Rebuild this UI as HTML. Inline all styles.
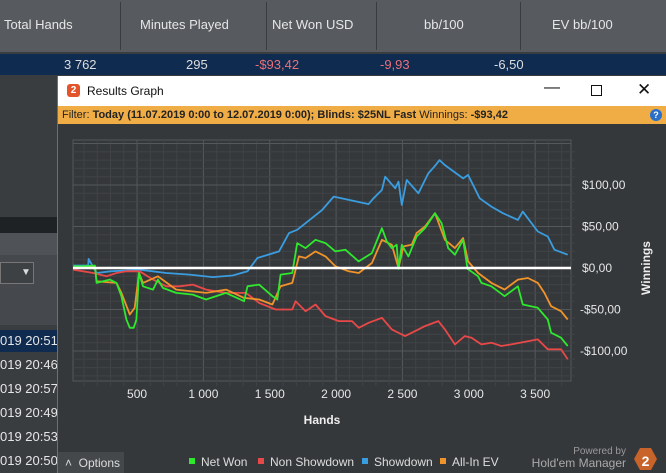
<!DOCTYPE html>
<html><head><meta charset="utf-8">
<style>
*{margin:0;padding:0;box-sizing:border-box}
body{width:666px;height:473px;overflow:hidden;background:#3a3d40;font-family:"Liberation Sans",sans-serif;position:relative}
.abs{position:absolute}
.hdr{left:0;top:0;width:666px;height:53px;background:#575b5f;border-bottom:1px solid #3b3e41}
.hc{position:absolute;top:17px;color:#e6e6e6;font-size:13px}
.sep{position:absolute;top:2px;width:1px;height:48px;background:#3a3d40}
.row{left:0;top:54px;width:666px;height:21px;background:#0f2b50}
.rc{position:absolute;top:3px;font-size:13px}
.lrow{position:absolute;left:0;font-size:13px;color:#e6e6e6}
</style></head><body>
<div class="abs hdr">
<span class="hc" style="left:4px">Total Hands</span>
<div class="sep" style="left:120px"></div>
<span class="hc" style="left:140px">Minutes Played</span>
<div class="sep" style="left:266px"></div>
<span class="hc" style="left:272px">Net Won USD</span>
<div class="sep" style="left:376px"></div>
<span class="hc" style="left:424px">bb/100</span>
<div class="sep" style="left:520px"></div>
<span class="hc" style="left:552px">EV bb/100</span>
</div>
<div class="abs row">
<span class="rc" style="left:64px;color:#ddd">3 762</span>
<span class="rc" style="left:186px;color:#ddd">295</span>
<span class="rc" style="left:255px;color:#e8707a">-$93,42</span>
<span class="rc" style="left:380px;color:#e8707a">-9,93</span>
<span class="rc" style="left:494px;color:#ddd">-6,50</span>
</div>
<div class="abs" style="left:0;top:75px;width:57px;height:155px;background:#3a3d40"></div>
<div class="abs" style="left:0;top:217px;width:57px;height:16px;background:#1f2225"></div>
<div class="abs" style="left:0;top:233px;width:57px;height:22px;background:#4f5256"></div>
<div class="abs" style="left:0;top:255px;width:57px;height:70px;background:#45484c"></div>
<div class="abs" style="left:0;top:262px;width:34px;height:22px;border:1px solid #777;background:#3e4144"><span style="position:absolute;left:20px;top:4px;color:#ddd;font-size:10px">▼</span></div>
<div class="abs" style="left:0;top:330px;width:57px;height:22px;background:#0f2b50"></div>
<span class="lrow" style="top:333px">019 20:51</span>
<span class="lrow" style="top:357px">019 20:46</span>
<span class="lrow" style="top:381px">019 20:57</span>
<span class="lrow" style="top:405px">019 20:49</span>
<span class="lrow" style="top:429px">019 20:53</span>
<span class="lrow" style="top:453px">019 20:50</span>
<div class="abs" style="left:57px;top:76px;width:1px;height:397px;background:#2f7fd0"></div>
<div class="abs" style="left:58px;top:76px;width:608px;height:30px;background:#fff">
<div style="position:absolute;left:9px;top:8px;width:13px;height:13px;border-radius:3px;background:#e2552b;color:#fff;font-size:10px;font-weight:bold;text-align:center;line-height:13px">2</div>
<span style="position:absolute;left:29px;top:8px;font-size:12px;color:#111">Results Graph</span>
<span style="position:absolute;left:486px;top:3px;font-size:16px;color:#111">—</span>
<div style="position:absolute;left:533px;top:9px;width:11px;height:11px;border:1px solid #111"></div>
<span style="position:absolute;left:579px;top:4px;font-size:17px;color:#111">✕</span>
</div>
<div class="abs" style="left:58px;top:106px;width:608px;height:18px;background:#f0ad45;font-size:11px;color:#222;padding:3px 0 0 4px;white-space:nowrap">Filter: <b>Today (11.07.2019 0:00 to 12.07.2019 0:00); Blinds: $25NL Fast</b> Winnings: <b>-$93,42</b>
<div style="position:absolute;left:592px;top:3px;width:12px;height:12px;border-radius:6px;background:#2a6fc9;color:#fff;font-size:9px;font-weight:bold;text-align:center;line-height:12px">?</div></div>
<div class="abs" style="left:58px;top:124px;width:608px;height:349px;background:#35383b"></div>
<svg class="abs" id="chart" style="left:0;top:0" width="666" height="473"></svg>
<div class="abs" style="left:58px;top:452px;width:66px;height:21px;background:#45484b;color:#ddd;font-size:12px;padding:4px 0 0 7px">˄ &nbsp;Options</div>
<script>
const xTicks=[500,1000,1500,2000,2500,3000,3500];
const xTickLabels=["500","1 000","1 500","2 000","2 500","3 000","3 500"];
const yTicks=[100,50,0,-50,-100];
const yTickLabels=["$100,00","$50,00","$0,00","-$50,00","-$100,00"];
const seriesNames=["Net Won","Non Showdown","Showdown","All-In EV"];
const seriesColors=["#2ee82e","#e84848","#3a9de0","#f0932a"];
const netWonHands=[20,95,182,195,295,345,382,420,445,475,495,515,545,620,657,695,795,920,1020,1170,1307,1332,1420,1520,1557,1582,1670,1707,1770,1845,1920,1995,2070,2170,2270,2345,2382,2420,2457,2470,2495,2545,2607,2670,2745,2795,2845,2895,2957,2990,3070,3095,3170,3270,3370,3407,3520,3595,3620,3695,3745];
const netWonVals=[2,2,3,-18,-14,-18,-34,-62,-72,-72,-62,-6,-22,-26,-14,-24,-30,-32,-38,-30,-40,-22,-20,-34,-38,-8,-6,30,24,34,30,20,22,8,18,48,32,24,28,-1,28,14,38,48,66,54,24,16,34,-1,-10,-18,-22,-34,-22,-44,-48,-62,-78,-84,-94];
const allInHands=[20,182,195,345,382,445,482,515,545,657,795,1020,1170,1307,1420,1520,1582,1670,1720,1770,1845,1920,1995,2095,2170,2270,2345,2420,2470,2507,2570,2607,2670,2745,2820,2895,2957,2995,3070,3170,3270,3370,3445,3520,3570,3620,3695,3745];
const allInVals=[0,2,-16,-18,-30,-56,-48,-6,-18,-10,-26,-30,-26,-36,-38,-44,-22,-18,14,12,20,14,2,-4,-6,6,34,28,0,26,28,42,50,66,34,24,36,8,-6,-18,-26,-14,-12,-18,-30,-46,-52,-62];
const nonSdHands=[20,170,270,345,420,520,620,720,820,920,1020,1170,1320,1420,1545,1670,1695,1770,1845,1920,2020,2120,2170,2245,2345,2420,2520,2620,2670,2770,2820,2895,2970,3020,3095,3170,3245,3320,3520,3595,3695,3745];
const nonSdVals=[-2,-6,-10,-6,-4,-4,-14,-22,-22,-20,-26,-30,-30,-42,-50,-50,-40,-52,-44,-58,-64,-64,-72,-66,-60,-74,-82,-74,-70,-64,-74,-92,-82,-84,-92,-90,-94,-92,-86,-98,-98,-110];
const showdownHands=[20,132,135,195,300,520,720,895,1070,1220,1332,1407,1570,1645,1707,1895,1982,2245,2282,2345,2370,2445,2470,2495,2532,2620,2695,2740,2780,2820,2957,2995,3082,3170,3257,3370,3407,3520,3595,3645,3745];
const showdownVals=[3,3,11,-6,-4,-2,-6,-8,-11,-9,-4,12,20,42,46,70,86,77,84,94,110,96,104,76,106,90,114,122,130,124,108,112,84,74,66,58,68,44,38,22,16];
const X0=73,X1=571,Y0=140,Y1=381;
const xs=h=>70.7+h*0.1327, ys=v=>268-v*0.83;
const svg=document.getElementById('chart'),NS='http://www.w3.org/2000/svg';
function mk(t,a){const e=document.createElementNS(NS,t);for(const k in a)e.setAttribute(k,a[k]);svg.appendChild(e);return e;}
const frame=mk('rect',{x:X0,y:Y0,width:X1-X0,height:Y1-Y0,fill:'#35383b',stroke:'#55585b'});


for(let h=100;h<3800;h+=100){const x=xs(h);if(x>X1)break;const major=h%500===0;
 const g=mk('line',{x1:x,x2:x,y1:Y0,y2:Y1+(major?0:5),stroke:major?'#55585b':'#404346','stroke-width':1});
 
 }
for(let v=-140;v<=150;v+=10){const y=ys(v);if(y<Y0||y>Y1)continue;const major=v%50===0;
 const g=mk('line',{x1:X0,x2:X1+(major?0:4),y1:y,y2:y,stroke:major?'#55585b':'#404346','stroke-width':1});
 
 }
xTicks.forEach((h,i)=>{const t=mk('text',{x:xs(h),y:398,fill:'#e6e6e6','font-size':12,'text-anchor':'middle','font-family':'Liberation Sans'});t.textContent=xTickLabels[i];
 
 });
yTicks.forEach((v,i)=>{const t=mk('text',{x:v<0?580:582,y:ys(v)+4,fill:'#e6e6e6','font-size':12,'font-family':'Liberation Sans'});t.textContent=yTickLabels[i];
 
 });
const xt=mk('text',{x:322,y:424,fill:'#eee','font-size':12,'font-weight':'bold','text-anchor':'middle','font-family':'Liberation Sans'});xt.textContent='Hands';


const yt=mk('text',{x:650,y:268,fill:'#eee','font-size':12,'font-weight':'bold','text-anchor':'middle','font-family':'Liberation Sans',transform:'rotate(-90 650 268)'});yt.textContent='Winnings';


function line(hands,vals,color,name){const pts=hands.map((h,i)=>xs(h).toFixed(1)+','+ys(vals[i]).toFixed(1)).join(' ');
 const p=mk('polyline',{points:pts,fill:'none',stroke:color,'stroke-width':1.8,'stroke-linejoin':'round'});
 
 }
line(showdownHands,showdownVals,seriesColors[2],'showdown-line');
line(nonSdHands,nonSdVals,seriesColors[1],'non-showdown-line');
line(allInHands,allInVals,seriesColors[3],'all-in-ev-line');
line(netWonHands,netWonVals,seriesColors[0],'net-won-line');
const zl=mk('line',{x1:X0,x2:X1,y1:ys(0),y2:ys(0),stroke:'#fff','stroke-width':2.5});


const lx=[189,258,362,440];
seriesNames.forEach((n,i)=>{const r=mk('rect',{x:lx[i],y:458,width:6,height:6,fill:seriesColors[i]});
 
 
 const t=mk('text',{x:lx[i]+12,y:466,fill:'#ddd','font-size':12,'font-family':'Liberation Sans'});t.textContent=n;
 
 });
const p1=mk('text',{x:626,y:454,fill:'#999','font-size':10,'text-anchor':'end','font-family':'Liberation Sans'});p1.textContent='Powered by';


const p2=mk('text',{x:626,y:467,fill:'#aaa','font-size':12,'text-anchor':'end','font-family':'Liberation Sans'});p2.textContent="Hold'em Manager";


const hx=mk('polygon',{points:'640,448 651,448 657,459 651,470 640,470 634,459',fill:'#c8632a'});


const h2=mk('text',{x:645.5,y:466,fill:'#fff','font-size':14,'font-weight':'bold','text-anchor':'middle','font-family':'Liberation Sans'});h2.textContent='2';


</script>
</body></html>
